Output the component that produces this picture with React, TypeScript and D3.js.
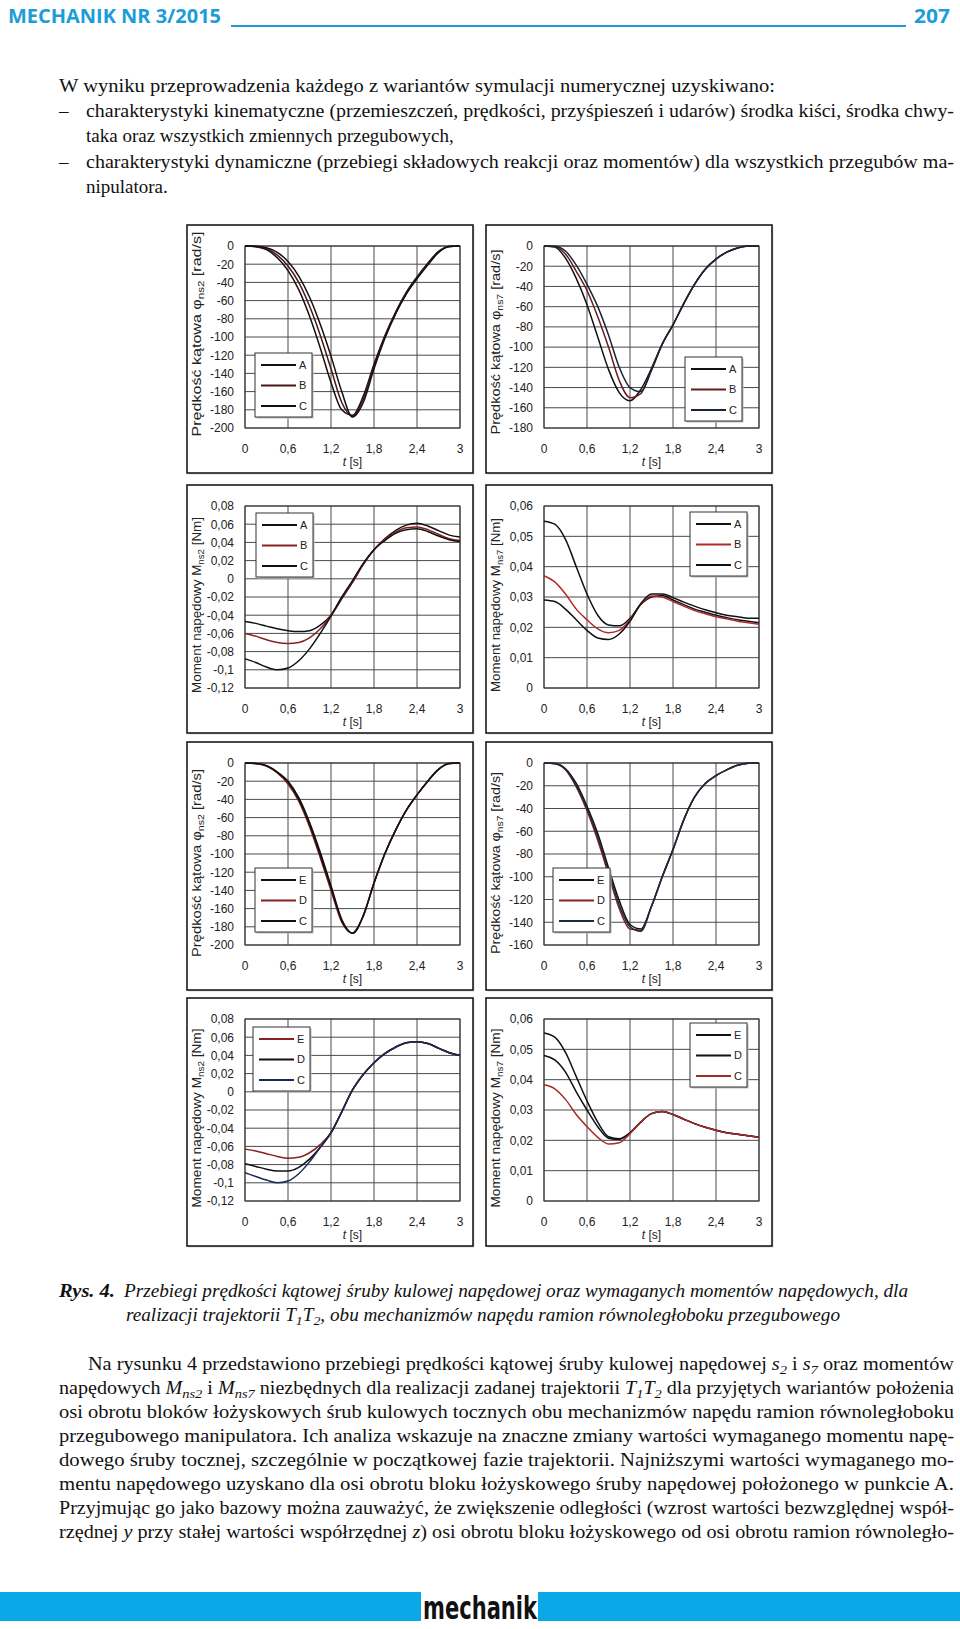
import React from "react";
import * as d3 from "d3";

// ---------- DATA ----------
const T = [0, 0.15, 0.3, 0.45, 0.6, 0.75, 0.9, 1.05, 1.2, 1.35, 1.5, 1.65, 1.8, 1.95, 2.1, 2.25, 2.4, 2.55, 2.7, 2.85, 3];
const X_TICKS = [0, 0.6, 1.2, 1.8, 2.4, 3];

const V200_TICKS = [0, -20, -40, -60, -80, -100, -120, -140, -160, -180, -200];
const V180_TICKS = [0, -20, -40, -60, -80, -100, -120, -140, -160, -180];
const V160_TICKS = [0, -20, -40, -60, -80, -100, -120, -140, -160];
const M2_TICKS = [0.08, 0.06, 0.04, 0.02, 0, -0.02, -0.04, -0.06, -0.08, -0.1, -0.12];
const M7_TICKS = [0.06, 0.05, 0.04, 0.03, 0.02, 0.01, 0];

const LEG_ABC = ["A", "B", "C"];
const LEG_EDC = ["E", "D", "C"];

// Chart 1: angular velocity ns2, variants A B C
const v2_A = [0, -0.8, -4, -13, -27, -48, -77, -112, -150, -180, -186, -165, -130, -99, -73, -51, -34, -19, -6, -0.5, 0];
const v2_B = [0, -0.5, -3, -10, -22, -40, -66, -98, -135, -172, -187, -168, -132, -100, -74, -52, -35, -20, -7, -0.5, 0];
const v2_C = [0, -0.3, -2, -7, -17, -33, -56, -86, -121, -160, -188, -172, -135, -102, -75, -53, -36, -21, -7, -0.5, 0];

// Chart 2: angular velocity ns7, variants A B C
const v7_A = [0, -1, -12, -32, -58, -90, -122, -145, -153, -142, -121, -97, -78, -57, -38, -23, -13, -6, -2, 0, 0];
const v7_B = [0, -0.5, -8, -25, -44, -70, -100, -133, -150, -146, -122, -97, -78, -57, -38, -23, -13, -6, -2, 0, 0];
const v7_C = [0, -0.3, -5, -19, -38, -60, -88, -120, -140, -144, -123, -97, -78, -57, -38, -23, -13, -6, -2, 0, 0];

// Chart 3: drive torque Mns2, variants A B C
const m2_A = [-0.047, -0.049, -0.052, -0.055, -0.057, -0.058, -0.057, -0.051, -0.040, -0.022, -0.004, 0.016, 0.032, 0.044, 0.053, 0.059, 0.061, 0.058, 0.053, 0.048, 0.046];
const m2_B = [-0.060, -0.063, -0.067, -0.070, -0.071, -0.070, -0.065, -0.055, -0.040, -0.021, -0.003, 0.016, 0.032, 0.043, 0.051, 0.056, 0.057, 0.054, 0.049, 0.044, 0.042];
const m2_C = [-0.088, -0.092, -0.097, -0.100, -0.098, -0.090, -0.077, -0.060, -0.041, -0.020, -0.002, 0.017, 0.032, 0.042, 0.050, 0.054, 0.055, 0.052, 0.047, 0.043, 0.041];

// Chart 4: drive torque Mns7, variants A B C
const m7_A = [0.055, 0.054, 0.049, 0.040, 0.031, 0.024, 0.0208, 0.0205, 0.023, 0.0275, 0.030, 0.0305, 0.029, 0.0275, 0.026, 0.025, 0.024, 0.0232, 0.0225, 0.022, 0.0215];
const m7_B = [0.037, 0.035, 0.031, 0.026, 0.0225, 0.0195, 0.0182, 0.019, 0.0225, 0.0275, 0.0303, 0.030, 0.0285, 0.027, 0.0255, 0.0245, 0.0235, 0.0228, 0.022, 0.0215, 0.021];
const m7_C = [0.029, 0.0285, 0.026, 0.0225, 0.019, 0.0165, 0.016, 0.0178, 0.022, 0.0278, 0.031, 0.031, 0.0298, 0.0283, 0.027, 0.0258, 0.0248, 0.024, 0.0235, 0.023, 0.023];

// Chart 5: angular velocity ns2, variants E D C
const v2_E = [0, -0.5, -3, -10, -20, -38, -65, -98, -135, -172, -187, -168, -132, -100, -74, -52, -35, -20, -7, -0.5, 0];
const v2_D = [0, -0.6, -3.5, -11, -23, -42, -70, -104, -140, -175, -187, -168, -132, -100, -74, -52, -35, -20, -7, -0.5, 0];
const v2_C2 = [0, -0.5, -3, -10, -21, -40, -67, -101, -137, -173, -187, -168, -132, -100, -74, -52, -35, -20, -7, -0.5, 0];

// Chart 6: angular velocity ns7, variants E D C
const v7_E = [0, -0.5, -5, -18, -38, -62, -92, -121, -142, -146, -126, -100, -76, -50, -30, -18, -11, -6, -2, -0.3, 0];
const v7_D = [0, -0.6, -6, -21, -42, -68, -98, -128, -146, -147, -126, -100, -76, -50, -30, -18, -11, -6, -2, -0.3, 0];
const v7_C2 = [0, -0.5, -5.5, -20, -40, -65, -95, -125, -144, -148, -126, -100, -76, -50, -30, -18, -11, -6, -2, -0.3, 0];

// Chart 7: drive torque Mns2, variants E D C
const m2_E = [-0.063, -0.065, -0.068, -0.071, -0.073, -0.072, -0.067, -0.058, -0.045, -0.022, 0.002, 0.019, 0.032, 0.042, 0.049, 0.054, 0.055, 0.053, 0.048, 0.043, 0.040];
const m2_D = [-0.079, -0.082, -0.085, -0.087, -0.087, -0.083, -0.074, -0.061, -0.045, -0.022, 0.002, 0.019, 0.032, 0.042, 0.049, 0.054, 0.055, 0.053, 0.048, 0.043, 0.040];
const m2_C2 = [-0.089, -0.093, -0.097, -0.100, -0.098, -0.090, -0.077, -0.061, -0.045, -0.022, 0.002, 0.019, 0.032, 0.042, 0.049, 0.054, 0.055, 0.053, 0.048, 0.043, 0.040];

// Chart 8: drive torque Mns7, variants E D C
const m7_E = [0.0554, 0.054, 0.049, 0.041, 0.033, 0.026, 0.0212, 0.0205, 0.0225, 0.026, 0.0288, 0.0295, 0.0285, 0.027, 0.0255, 0.0243, 0.0233, 0.0225, 0.022, 0.0215, 0.021];
const m7_D = [0.048, 0.0465, 0.0425, 0.036, 0.030, 0.0245, 0.0207, 0.0203, 0.0225, 0.026, 0.0288, 0.0295, 0.0285, 0.027, 0.0255, 0.0243, 0.0233, 0.0225, 0.022, 0.0215, 0.021];
const m7_C2 = [0.0383, 0.037, 0.0335, 0.0285, 0.0245, 0.021, 0.0188, 0.0192, 0.0222, 0.026, 0.0288, 0.0295, 0.0285, 0.027, 0.0255, 0.0243, 0.0233, 0.0225, 0.022, 0.0215, 0.021];

// ---------- TEXT ----------
type Seg = string | { t: string; i?: boolean; sub?: boolean; b?: boolean };

const INTRO_1 = "W wyniku przeprowadzenia każdego z wariantów  symulacji numerycznej uzyskiwano:";
const INTRO_2 = "charakterystyki kinematyczne (przemieszczeń, prędkości, przyśpieszeń i udarów) środka kiści, środka chwy-";
const INTRO_3 = "taka oraz wszystkich zmiennych przegubowych,";
const INTRO_4 = "charakterystyki dynamiczne (przebiegi składowych reakcji oraz momentów) dla wszystkich przegubów ma-";
const INTRO_5 = "nipulatora.";

const CAPTION_1: Seg[] = ["Przebiegi prędkości kątowej śruby kulowej napędowej oraz wymaganych momentów napędowych, dla"];
const CAPTION_2: Seg[] = ["realizacji trajektorii T", { t: "1", sub: true }, "T", { t: "2", sub: true }, ", obu mechanizmów napędu ramion równoległoboku przegubowego"];

const PARA: Seg[][] = [
  ["Na rysunku 4 przedstawiono przebiegi prędkości kątowej śruby kulowej napędowej ", { t: "s", i: true }, { t: "2", sub: true, i: true }, " i ", { t: "s", i: true }, { t: "7", sub: true, i: true }, " oraz momentów"],
  ["napędowych ", { t: "M", i: true }, { t: "ns2", sub: true, i: true }, " i ", { t: "M", i: true }, { t: "ns7", sub: true, i: true }, " niezbędnych dla realizacji zadanej trajektorii ", { t: "T", i: true }, { t: "1", sub: true, i: true }, { t: "T", i: true }, { t: "2", sub: true, i: true }, " dla przyjętych wariantów położenia"],
  ["osi obrotu bloków łożyskowych śrub kulowych tocznych obu mechanizmów napędu ramion równoległoboku"],
  ["przegubowego manipulatora. Ich analiza wskazuje na znaczne zmiany wartości wymaganego momentu napę-"],
  ["dowego śruby tocznej, szczególnie w początkowej fazie trajektorii. Najniższymi wartości wymaganego mo-"],
  ["mentu napędowego uzyskano dla osi obrotu bloku łożyskowego śruby napędowej położonego w punkcie A."],
  ["Przyjmując go jako bazowy można zauważyć, że zwiększenie odległości (wzrost wartości bezwzględnej współ-"],
  ["rzędnej ", { t: "y", i: true }, " przy stałej wartości współrzędnej ", { t: "z", i: true }, ") osi obrotu bloku łożyskowego od osi obrotu ramion równoległo-"],
];

// ---------- LAYOUT ----------
const COLS = [187, 486];
const ROWS = [225, 485, 742, 998];
const FW = 286, FH = 248;
const PL = 58, PT = 21, PW = 215, PH = 182;

const fmt = d3.formatLocale({ decimal: ",", thousands: " ", grouping: [3], currency: ["", ""], minus: "-" }).format("~g");

type ChartCfg = {
  col: number; row: number;
  series: number[][]; colors: string[]; names: string[];
  domain: [number, number]; ticks: number[];
  yLabel: Seg[]; yLabelLen: number; yLabelShift: number;
  legend: [number, number];
};

const CHARTS: ChartCfg[] = [
  { col: 0, row: 0, series: [v2_A, v2_B, v2_C], colors: ["#111", "#4a1818", "#111"], names: LEG_ABC, domain: [-200, 0], ticks: V200_TICKS,
    yLabel: ["Prędkość kątowa φ", { t: "ns2", sub: true }, "  [rad/s]"], yLabelLen: 205, yLabelShift: -3, legend: [68, 128] },
  { col: 1, row: 0, series: [v7_A, v7_B, v7_C], colors: ["#111", "#6a1c1c", "#1a2438"], names: LEG_ABC, domain: [-180, 0], ticks: V180_TICKS,
    yLabel: ["Prędkość kątowa φ", { t: "ns7", sub: true }, "  [rad/s]"], yLabelLen: 185, yLabelShift: 5, legend: [199, 132] },
  { col: 0, row: 1, series: [m2_A, m2_B, m2_C], colors: ["#111", "#8b2020", "#111"], names: LEG_ABC, domain: [-0.12, 0.08], ticks: M2_TICKS,
    yLabel: ["Moment napędowy M", { t: "ns2", sub: true }, " [Nm]"], yLabelLen: 176, yLabelShift: 8, legend: [69, 28] },
  { col: 1, row: 1, series: [m7_A, m7_B, m7_C], colors: ["#111", "#b02a2a", "#111"], names: LEG_ABC, domain: [0, 0.06], ticks: M7_TICKS,
    yLabel: ["Moment napędowy M", { t: "ns7", sub: true }, " [Nm]"], yLabelLen: 174, yLabelShift: 8, legend: [204, 27] },
  { col: 0, row: 2, series: [v2_E, v2_D, v2_C2], colors: ["#111", "#8b2020", "#111"], names: LEG_EDC, domain: [-200, 0], ticks: V200_TICKS,
    yLabel: ["Prędkość kątowa φ", { t: "ns2", sub: true }, "  [rad/s]"], yLabelLen: 188, yLabelShift: 9, legend: [68, 126] },
  { col: 1, row: 2, series: [v7_E, v7_D, v7_C2], colors: ["#111", "#8b2020", "#1a2a40"], names: LEG_EDC, domain: [-160, 0], ticks: V160_TICKS,
    yLabel: ["Prędkość kątowa φ", { t: "ns7", sub: true }, "  [rad/s]"], yLabelLen: 182, yLabelShift: 9, legend: [67, 126] },
  { col: 0, row: 3, series: [m2_E, m2_D, m2_C2], colors: ["#8b2020", "#111", "#1a2a55"], names: LEG_EDC, domain: [-0.12, 0.08], ticks: M2_TICKS,
    yLabel: ["Moment napędowy M", { t: "ns2", sub: true }, " [Nm]"], yLabelLen: 179, yLabelShift: 8, legend: [66, 29] },
  { col: 1, row: 3, series: [m7_E, m7_D, m7_C2], colors: ["#111", "#111", "#a52a2a"], names: LEG_EDC, domain: [0, 0.06], ticks: M7_TICKS,
    yLabel: ["Moment napędowy M", { t: "ns7", sub: true }, " [Nm]"], yLabelLen: 179, yLabelShift: 8, legend: [204, 25] },
];

function renderSegs(segs: Seg[], subDy = 4) {
  const out: React.ReactNode[] = [];
  let inSub = false;
  segs.forEach((s, k) => {
    const o = typeof s === "string" ? { t: s } : s;
    let dy: number | undefined;
    if (o.sub && !inSub) { dy = subDy; inSub = true; }
    else if (!o.sub && inSub) { dy = -subDy; inSub = false; }
    out.push(
      <tspan key={k} dy={dy} fontStyle={o.i ? "italic" : undefined} fontWeight={o.b ? "bold" : undefined} fontSize={o.sub ? "0.72em" : undefined}>
        {o.t}
      </tspan>
    );
  });
  return out;
}

const SANS = "'Liberation Sans', Arial, sans-serif";
const SERIF = "'Liberation Serif', 'Times New Roman', serif";

function Chart({ cfg }: { cfg: ChartCfg }) {
  const fx = COLS[cfg.col], fy = ROWS[cfg.row];
  const px = fx + PL, py = fy + PT;
  const xs = d3.scaleLinear().domain([0, 3]).range([px, px + PW]);
  const ys = d3.scaleLinear().domain(cfg.domain).range([py + PH, py]);
  const line = d3.line<number>().x((_, i) => xs(T[i])).y((d) => ys(d)).curve(d3.curveMonotoneX);
  const [lx, ly] = cfg.legend;
  const lgx = fx + lx, lgy = fy + ly;
  const cy = py + PH / 2 + cfg.yLabelShift;
  return (
    <g>
      <rect x={fx + 1.5} y={fy + 1.5} width={FW} height={FH} fill="#d8d8d8" />
      <rect x={fx} y={fy} width={FW} height={FH} fill="#fff" stroke="#1a1a1a" strokeWidth={1.6} />
      {cfg.ticks.map((t) => (
        <line key={"h" + t} x1={px} x2={px + PW} y1={ys(t)} y2={ys(t)} stroke="#4a4a4a" strokeWidth={1} />
      ))}
      {X_TICKS.map((t) => (
        <line key={"v" + t} x1={xs(t)} x2={xs(t)} y1={py} y2={py + PH} stroke="#4a4a4a" strokeWidth={1} />
      ))}
      <rect x={px} y={py} width={PW} height={PH} fill="none" stroke="#333" strokeWidth={1} />
      {cfg.series.map((s, i) => (
        <path key={i} d={line(s) || ""} fill="none" stroke={cfg.colors[i]} strokeWidth={1.5} />
      ))}
      <g fontFamily={SANS} fontSize={12} fill="#222">
        {cfg.ticks.map((t) => (
          <text key={"yl" + t} x={px - 11} y={ys(t)} dy="0.36em" textAnchor="end">{fmt(t)}</text>
        ))}
        {X_TICKS.map((t) => (
          <text key={"xl" + t} x={xs(t)} y={py + PH + 25} textAnchor="middle">{fmt(t)}</text>
        ))}
        <text x={px + PW / 2} y={py + PH + 38} textAnchor="middle">
          <tspan fontStyle="italic">t</tspan>
          <tspan> [s]</tspan>
        </text>
        <text transform={`translate(${fx + 14},${cy}) rotate(-90)`} textAnchor="middle" textLength={cfg.yLabelLen} lengthAdjust="spacingAndGlyphs">
          {renderSegs(cfg.yLabel, 3)}
        </text>
      </g>
      <rect x={lgx + 1.5} y={lgy + 1.5} width={57} height={64} fill="#bbb" />
      <rect x={lgx} y={lgy} width={57} height={64} fill="#fff" stroke="#333" strokeWidth={1} />
      {cfg.names.map((n, i) => (
        <g key={n}>
          <line x1={lgx + 6} x2={lgx + 41} y1={lgy + 12 + i * 20.5} y2={lgy + 12 + i * 20.5} stroke={cfg.colors[i]} strokeWidth={1.8} />
          <text x={lgx + 44} y={lgy + 12 + i * 20.5} dy="0.36em" fontFamily={SANS} fontSize={11} fill="#222">{n}</text>
        </g>
      ))}
    </g>
  );
}

const CYAN = "#1b9dd9";

export default function App() {
  const introX = 59, textX = 86, right = 954;
  const intro = [
    { x: introX, y: 92, w: 716 as number | undefined, t: INTRO_1, dash: false },
    { x: textX, y: 117, w: (right - textX) as number | undefined, t: INTRO_2, dash: true },
    { x: textX, y: 142, w: undefined as number | undefined, t: INTRO_3, dash: false },
    { x: textX, y: 168, w: (right - textX) as number | undefined, t: INTRO_4, dash: true },
    { x: textX, y: 193, w: undefined as number | undefined, t: INTRO_5, dash: false },
  ];
  const paraY = [1370, 1394, 1418, 1442, 1466, 1490, 1514, 1538];
  return (
    <svg width={960} height={1629} style={{ position: "absolute", left: 0, top: 0, background: "#fff" }} xmlns="http://www.w3.org/2000/svg">
      <rect x={0} y={0} width={960} height={1629} fill="#fff" />
      {/* header */}
      <text x={8} y={23} fontFamily="'Open Sans', 'Liberation Sans', sans-serif" fontWeight="bold" fontSize={20} fill={CYAN} textLength={213} lengthAdjust="spacingAndGlyphs">MECHANIK NR 3/2015</text>
      <line x1={231} x2={906} y1={26} y2={26} stroke={CYAN} strokeWidth={2} />
      <text x={914} y={23} fontFamily="'Open Sans', 'Liberation Sans', sans-serif" fontWeight="bold" fontSize={20} fill={CYAN} textLength={36} lengthAdjust="spacingAndGlyphs">207</text>

      {/* intro */}
      <g fontFamily={SERIF} fontSize={19} fill="#111">
        {intro.map((l, i) => (
          <g key={i}>
            {l.dash && <text x={introX} y={l.y}>–</text>}
            {l.w !== undefined ? (
              <text x={l.x} y={l.y} textLength={l.w} lengthAdjust="spacingAndGlyphs">{l.t}</text>
            ) : (
              <text x={l.x} y={l.y}>{l.t}</text>
            )}
          </g>
        ))}
      </g>

      {/* charts */}
      {CHARTS.map((c, i) => <Chart key={i} cfg={c} />)}

      {/* caption */}
      <g fontFamily={SERIF} fontSize={18} fill="#111" fontStyle="italic">
        <text x={59} y={1297} fontWeight="bold" textLength={56} lengthAdjust="spacingAndGlyphs">Rys. 4.</text>
        <text x={124} y={1297} textLength={784} lengthAdjust="spacingAndGlyphs">{renderSegs(CAPTION_1)}</text>
        <text x={126} y={1321} textLength={714} lengthAdjust="spacingAndGlyphs">{renderSegs(CAPTION_2)}</text>
      </g>

      {/* paragraph */}
      <g fontFamily={SERIF} fontSize={18.5} fill="#111">
        {PARA.map((segs, i) => {
          const x = i === 0 ? 88 : 59;
          return (
            <text key={i} x={x} y={paraY[i]} textLength={right - x} lengthAdjust="spacingAndGlyphs">{renderSegs(segs)}</text>
          );
        })}
      </g>

      {/* footer */}
      <rect x={0} y={1592} width={421} height={29} fill="#0aa8e6" />
      <rect x={538} y={1592} width={422} height={29} fill="#0aa8e6" />
      <text x={423} y={1619} fontFamily="'DejaVu Sans', sans-serif" fontWeight="bold" fontSize={32} fill="#111" textLength={114} lengthAdjust="spacingAndGlyphs">mechanik</text>
    </svg>
  );
}
